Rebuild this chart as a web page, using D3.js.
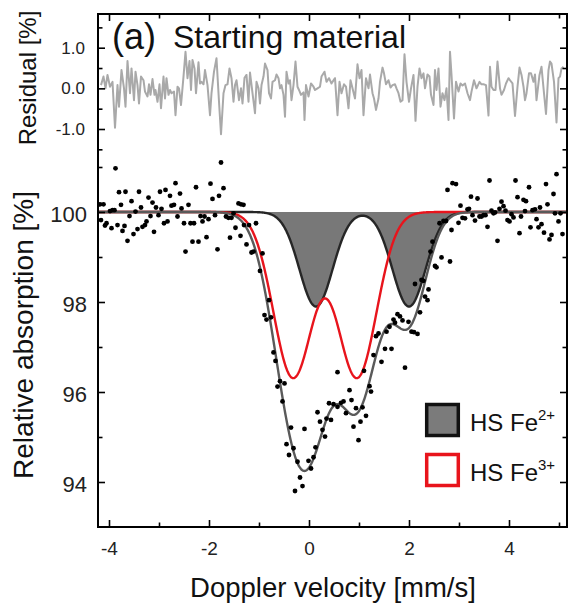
<!DOCTYPE html>
<html>
<head>
<meta charset="utf-8">
<script src="https://cdn.jsdelivr.net/npm/d3@7"></script>
<style>
  body { margin: 0; background: #fff; }
  svg { display: block; font-family: "Liberation Sans", Arial, Helvetica, sans-serif; }
</style>
</head>
<body>
<svg id="chart" width="571" height="604"></svg>
<script>
// Measured transmission spectrum: [Doppler velocity (mm/s), relative absorption (%)]
const spectrum = [
  [-4.18,100.17],[-4.16,99.82],[-4.11,100.17],[-4.08,99.70],[-4.05,99.75],[-3.98,100.02],[-3.95,99.64],
  [-3.93,100.04],[-3.89,100.04],[-3.87,100.97],[-3.83,99.71],[-3.80,100.44],[-3.76,100.16],[-3.73,99.58],
  [-3.69,99.69],[-3.67,100.45],[-3.63,99.36],[-3.59,99.91],[-3.55,100.24],[-3.51,99.51],[-3.47,100.01],
  [-3.43,99.62],[-3.40,100.45],[-3.36,100.10],[-3.33,99.67],[-3.28,99.71],[-3.25,99.79],[-3.21,100.32],
  [-3.17,99.91],[-3.13,100.21],[-3.10,99.56],[-3.06,100.10],[-3.01,99.93],[-2.98,100.45],[-2.95,100.07],
  [-2.90,99.75],[-2.87,100.49],[-2.83,99.79],[-2.78,100.36],[-2.75,100.14],[-2.70,100.16],[-2.67,100.64],
  [-2.63,99.90],[-2.58,100.41],[-2.55,100.08],[-2.50,99.75],[-2.47,99.12],[-2.41,100.16],[-2.37,99.75],
  [-2.33,99.34],[-2.30,99.75],[-2.26,100.55],[-2.21,99.34],[-2.17,99.91],[-2.13,99.79],[-2.09,99.90],
  [-2.05,99.44],[-2.01,99.84],[-1.97,100.63],[-1.93,100.29],[-1.88,99.93],[-1.83,99.17],[-1.80,100.36],
  [-1.76,101.10],[-1.71,100.53],[-1.66,99.90],[-1.61,99.87],[-1.58,99.43],[-1.55,99.87],[-1.51,99.97],
  [-1.47,99.65],[-1.41,100.19],[-1.37,99.47],[-1.36,100.17],[-1.31,100.16],[-1.30,99.71],[-1.25,99.28],
  [-1.20,99.71],[-1.15,99.10],[-1.11,99.12],[-1.06,99.75],[-0.98,98.69],[-0.93,99.08],[-0.89,97.71],
  [-0.85,97.61],[-0.80,98.04],[-0.76,97.66],[-0.71,96.88],[-0.67,96.69],[-0.63,96.12],[-0.58,96.24],
  [-0.53,95.79],[-0.49,96.19],[-0.45,94.84],[-0.40,94.60],[-0.36,95.21],[-0.31,94.75],[-0.28,93.80],
  [-0.23,94.45],[-0.18,94.10],[-0.13,93.91],[-0.09,95.18],[-0.01,94.47],[0.04,94.30],[0.09,94.55],
  [0.13,94.77],[0.17,95.55],[0.22,95.34],[0.27,95.16],[0.32,95.01],[0.35,95.41],[0.40,95.75],
  [0.44,95.38],[0.49,95.73],[0.57,95.67],[0.57,96.44],[0.64,95.76],[0.69,95.79],[0.74,95.53],
  [0.81,96.04],[0.85,95.82],[0.89,95.23],[0.94,95.64],[0.99,94.93],[1.03,95.34],[1.07,95.66],
  [1.10,96.47],[1.14,95.47],[1.21,96.13],[1.24,96.01],[1.29,96.82],[1.34,97.24],[1.39,97.30],
  [1.45,96.67],[1.52,96.96],[1.55,97.34],[1.61,97.45],[1.65,96.96],[1.69,97.61],[1.72,97.54],
  [1.77,97.73],[1.82,97.68],[1.87,97.59],[1.92,96.54],[1.99,97.56],[2.05,97.34],[2.10,97.33],
  [2.12,98.40],[2.17,97.29],[2.22,97.77],[2.25,98.49],[2.29,98.47],[2.32,98.12],[2.37,98.04],
  [2.39,98.28],[2.43,99.12],[2.47,99.34],[2.52,98.80],[2.55,98.77],[2.61,99.75],[2.65,98.99],
  [2.69,99.80],[2.74,99.80],[2.77,100.49],[2.82,98.90],[2.85,99.60],[2.87,100.64],[2.94,100.62],
  [2.99,99.76],[3.03,100.14],[3.07,99.87],[3.12,99.86],[3.17,100.06],[3.20,100.07],[3.24,100.34],
  [3.27,99.93],[3.32,99.81],[3.37,100.30],[3.41,99.90],[3.45,99.90],[3.49,99.93],[3.53,99.93],
  [3.57,99.67],[3.61,100.70],[3.65,100.03],[3.69,99.97],[3.72,99.99],[3.77,99.36],[3.81,100.07],
  [3.85,100.23],[3.89,100.13],[3.93,100.03],[3.97,99.82],[4.01,99.79],[4.05,99.95],[4.09,99.88],
  [4.13,100.70],[4.17,100.33],[4.21,99.53],[4.24,99.90],[4.29,100.27],[4.32,100.02],[4.34,100.24],
  [4.40,100.55],[4.43,99.66],[4.47,100.04],[4.52,100.06],[4.55,99.84],[4.59,99.66],[4.62,100.10],
  [4.65,99.73],[4.70,99.54],[4.74,100.62],[4.77,100.17],[4.81,99.39],[4.85,99.49],[4.89,100.40],
  [4.92,99.97],[4.95,100.84],[4.99,99.79],[5.03,99.97],[5.07,99.51]
];

// Fit residual: [Doppler velocity (mm/s), residual (%)]
const residual = [
  [-4.16,0.08],[-4.11,0.29],[-4.07,0.00],[-4.03,0.33],[-3.98,0.04],[-3.93,0.16],[-3.88,-0.97],[-3.83,0.08],
  [-3.80,-0.45],[-3.75,0.45],[-3.70,0.00],[-3.67,-0.45],[-3.63,0.67],[-3.58,-0.12],[-3.55,0.49],[-3.50,-0.29],
  [-3.47,0.41],[-3.43,0.08],[-3.40,-0.37],[-3.36,0.29],[-3.31,0.20],[-3.28,-0.08],[-3.23,-0.20],[-3.20,0.10],
  [-3.17,-0.16],[-3.13,0.23],[-3.09,-0.16],[-3.07,-0.04],[-3.03,-0.33],[-2.99,0.10],[-2.96,-0.49],[-2.91,0.29],
  [-2.88,-0.25],[-2.85,0.25],[-2.81,-0.16],[-2.78,-0.04],[-2.75,-0.12],[-2.70,-0.08],[-2.67,-0.66],[-2.63,0.04],
  [-2.60,0.00],[-2.56,-0.41],[-2.51,0.29],[-2.47,0.90],[-2.43,0.25],[-2.39,0.67],[-2.36,-0.04],[-2.33,0.70],
  [-2.29,0.49],[-2.26,-0.12],[-2.21,0.64],[-2.18,0.12],[-2.15,0.16],[-2.11,0.10],[-2.08,0.45],[-2.03,0.08],
  [-1.98,-0.66],[-1.95,-0.12],[-1.90,0.41],[-1.85,0.74],[-1.80,-0.33],[-1.76,-1.13],[-1.71,-0.12],[-1.67,0.08],
  [-1.63,0.10],[-1.59,0.49],[-1.55,0.25],[-1.51,-0.33],[-1.48,0.08],[-1.45,0.20],[-1.40,-0.29],[-1.36,0.00],
  [-1.33,-0.37],[-1.29,0.26],[-1.25,0.33],[-1.21,-0.33],[-1.18,0.39],[-1.13,-0.12],[-1.08,-0.61],[-1.05,0.16],
  [-1.01,0.00],[-0.98,-0.37],[-0.95,0.08],[-0.91,0.29],[-0.88,0.61],[-0.83,0.45],[-0.80,-0.12],[-0.76,-0.25],
  [-0.73,0.16],[-0.68,0.20],[-0.65,0.34],[-0.61,0.25],[-0.58,0.00],[-0.55,0.08],[-0.51,-0.16],[-0.48,-0.70],
  [-0.45,0.41],[-0.41,0.12],[-0.38,0.20],[-0.35,-0.29],[-0.31,0.08],[-0.27,0.66],[-0.23,0.04],[-0.20,-0.04],
  [-0.16,-0.16],[-0.11,-0.10],[-0.09,-0.78],[-0.06,0.08],[-0.01,-0.20],[0.04,0.12],[0.09,0.04],[0.12,-0.04],
  [0.17,0.00],[0.22,0.04],[0.25,0.29],[0.31,0.41],[0.35,0.16],[0.40,0.25],[0.45,0.12],[0.47,0.16],
  [0.52,0.25],[0.57,-0.66],[0.61,0.16],[0.65,-0.12],[0.70,0.10],[0.74,0.04],[0.79,-0.49],[0.83,0.20],
  [0.87,0.00],[0.92,-0.25],[0.97,0.59],[1.01,0.25],[1.05,0.45],[1.09,-0.66],[1.14,0.25],[1.19,0.00],
  [1.22,0.34],[1.27,-0.12],[1.30,-0.25],[1.34,-0.53],[1.39,-0.25],[1.42,0.16],[1.47,0.51],[1.50,0.37],
  [1.54,0.10],[1.59,0.20],[1.63,0.02],[1.67,0.08],[1.72,0.10],[1.75,0.00],[1.79,-0.12],[1.83,-0.33],
  [1.87,-0.29],[1.91,0.84],[1.95,0.16],[2.00,-0.33],[2.04,0.00],[2.09,0.33],[2.13,-0.80],[2.17,0.04],
  [2.21,0.49],[2.25,0.25],[2.29,0.37],[2.32,0.00],[2.37,0.34],[2.41,0.29],[2.44,-0.16],[2.49,-0.41],
  [2.52,0.45],[2.55,-0.04],[2.59,0.49],[2.63,-0.45],[2.67,-0.12],[2.71,-0.29],[2.75,0.00],[2.79,-0.78],
  [2.82,0.90],[2.85,0.33],[2.90,-0.74],[2.94,0.16],[2.99,-0.08],[3.03,0.12],[3.07,0.07],[3.12,0.12],
  [3.17,-0.12],[3.22,-0.29],[3.25,-0.08],[3.30,0.20],[3.35,0.00],[3.41,0.16],[3.45,0.10],[3.49,0.10],
  [3.54,0.08],[3.59,-0.67],[3.62,0.53],[3.65,0.04],[3.69,-0.04],[3.73,-0.04],[3.77,0.66],[3.82,0.00],
  [3.85,-0.16],[3.90,-0.04],[3.94,0.12],[3.99,0.25],[4.02,0.20],[4.07,0.12],[4.12,-0.68],[4.17,0.04],
  [4.21,0.51],[4.25,0.33],[4.29,0.04],[4.32,-0.29],[4.35,-0.12],[4.40,0.37],[4.44,0.37],[4.49,0.16],
  [4.52,0.34],[4.55,-0.29],[4.61,0.33],[4.65,0.53],[4.70,-0.12],[4.74,-0.63],[4.79,0.45],[4.82,0.66],
  [4.85,0.61],[4.90,0.16],[4.95,-0.84],[4.99,0.25],[5.02,0.29],[5.05,0.49],[5.09,0.53]
];

// Fitted sites (Gaussian doublets): line positions (mm/s), FWHM (mm/s), line depth (%)
const siteLabels = ["HS Fe", "HS Fe"];
const siteCharges = ["2+", "3+"];
const siteLines = [[0.14, 2.00], [-0.32, 0.96]];
const siteWidths = [0.78, 0.92];
const siteDepths = [2.10, 3.675];
// Fitted total envelope, per site: FWHM (mm/s) and line depth (%)
const envelopeWidths = [0.80, 0.98];
const envelopeDepths = [2.386, 4.286];

const velocityRange = [-4.22, 5.16];
const absorptionRange = [93, 100];
const xMajor = [-4, -2, 0, 2, 4];
const xMinor = [-3, -1, 1, 3, 5];
const yMajor = [94, 96, 98, 100];
const yMinor = [95, 97, 99, 101];
const rMajor = [-1, 0, 1];
const rMinor = [-1.5, -0.5, 0.5, 1.5];

// ---- layout ----
const svg = d3.select("#chart");
const box = { left: 98, right: 567, top: 14, bottom: 527 };
const baselineY = 212;           // 100 % line
const x = d3.scaleLinear().domain(velocityRange).range([box.left, box.right]);
const y = d3.scaleLinear().domain(absorptionRange).range([box.bottom, baselineY]);
const yr = d3.scaleLinear().domain([-1, 1]).range([129, 47.7]);

// doublet profiles
const gauss = (v, c, w) => Math.exp(-4 * Math.LN2 * ((v - c) / w) ** 2);
const doublet = (i, v, widths, depths) => depths[i] * d3.sum(siteLines[i], c => gauss(v, c, widths[i]));
const siteAbs = (i, v) => doublet(i, v, siteWidths, siteDepths);
const envelopeAbs = v => doublet(0, v, envelopeWidths, envelopeDepths) + doublet(1, v, envelopeWidths, envelopeDepths);
const grid = d3.range(velocityRange[0], velocityRange[1] + 1e-9, 0.01);

const plot = svg.append("g");
svg.append("clipPath").attr("id", "plotClip")
  .append("rect").attr("x", box.left).attr("y", box.top)
  .attr("width", box.right - box.left).attr("height", box.bottom - box.top);
plot.attr("clip-path", "url(#plotClip)");

// Fe2+ site: shaded
plot.append("path")
  .attr("d", d3.area().x(v => x(v)).y0(y(100)).y1(v => y(100 - siteAbs(0, v)))(grid))
  .attr("fill", "#787878");
plot.append("path")
  .attr("d", d3.line().x(v => x(v)).y(v => y(100 - siteAbs(0, v)))(grid))
  .attr("fill", "none").attr("stroke", "#262626").attr("stroke-width", 2.4);

// Fe3+ site
plot.append("path")
  .attr("d", d3.line().x(v => x(v)).y(v => y(100 - siteAbs(1, v)))(grid))
  .attr("fill", "none").attr("stroke", "#e8141c").attr("stroke-width", 2.4);

// total envelope
plot.append("path")
  .attr("d", d3.line().x(v => x(v)).y(v => y(100 - envelopeAbs(v)))(grid))
  .attr("fill", "none").attr("stroke", "#5a5a5a").attr("stroke-width", 2.4);

// residual
plot.append("path")
  .attr("d", d3.line().x(d => x(d[0])).y(d => yr(d[1]))(residual))
  .attr("fill", "none").attr("stroke", "#a9a9a9").attr("stroke-width", 2)
  .attr("stroke-linejoin", "round");

// measured points
plot.selectAll("circle.pt").data(spectrum).join("circle")
  .attr("class", "pt")
  .attr("cx", d => x(d[0])).attr("cy", d => y(d[1])).attr("r", 2.4)
  .attr("fill", "#000");

// ---- axes (ticks point inward) ----
function styleAxis(g) {
  g.select(".domain").remove();
  g.selectAll(".tick line").attr("stroke", "#000").attr("stroke-width", 1.6);
  g.selectAll("text").attr("fill", "#222");
}
const majorLen = 7, minorLen = 4.5;

svg.append("g").attr("transform", `translate(0,${box.bottom})`)
  .call(d3.axisBottom(x).tickValues(xMajor).tickSize(-majorLen).tickPadding(15).tickFormat(d => String(d)))
  .call(styleAxis)
  .call(g => g.selectAll("text").attr("font-size", 19).attr("font-family", null));
svg.append("g").attr("transform", `translate(0,${box.bottom})`)
  .call(d3.axisBottom(x).tickValues(xMinor).tickSize(-minorLen).tickFormat(""))
  .call(styleAxis);
svg.append("g").attr("transform", `translate(0,${box.top})`)
  .call(d3.axisTop(x).tickValues(xMajor).tickSize(-majorLen).tickFormat(""))
  .call(styleAxis);
svg.append("g").attr("transform", `translate(0,${box.top})`)
  .call(d3.axisTop(x).tickValues(xMinor).tickSize(-minorLen).tickFormat(""))
  .call(styleAxis);

// absorption axis
svg.append("g").attr("transform", `translate(${box.left},0)`)
  .call(d3.axisLeft(y).tickValues(yMajor).tickSize(-majorLen).tickPadding(11).tickFormat(d => String(d)))
  .call(styleAxis)
  .call(g => g.selectAll("text").attr("font-size", 22).attr("font-family", null).attr("dy", "0.45em"));
svg.append("g").attr("transform", `translate(${box.left},0)`)
  .call(d3.axisLeft(y).tickValues(yMinor).tickSize(-minorLen).tickFormat(""))
  .call(styleAxis);
svg.append("g").attr("transform", `translate(${box.right},0)`)
  .call(d3.axisRight(y).tickValues(yMajor).tickSize(-majorLen).tickFormat(""))
  .call(styleAxis);
svg.append("g").attr("transform", `translate(${box.right},0)`)
  .call(d3.axisRight(y).tickValues(yMinor).tickSize(-minorLen).tickFormat(""))
  .call(styleAxis);

// residual axis
svg.append("g").attr("transform", `translate(${box.left},0)`)
  .call(d3.axisLeft(yr).tickValues(rMajor).tickSize(-majorLen).tickPadding(13).tickFormat(d => d.toFixed(1)))
  .call(styleAxis)
  .call(g => g.selectAll("text").attr("font-size", 17).attr("font-family", null));
svg.append("g").attr("transform", `translate(${box.left},0)`)
  .call(d3.axisLeft(yr).tickValues(rMinor).tickSize(-minorLen).tickFormat(""))
  .call(styleAxis);
svg.append("g").attr("transform", `translate(${box.right},0)`)
  .call(d3.axisRight(yr).tickValues(rMajor).tickSize(-majorLen).tickFormat(""))
  .call(styleAxis);
svg.append("g").attr("transform", `translate(${box.right},0)`)
  .call(d3.axisRight(yr).tickValues(rMinor).tickSize(-minorLen).tickFormat(""))
  .call(styleAxis);

// frame
svg.append("rect")
  .attr("x", box.left).attr("y", box.top)
  .attr("width", box.right - box.left).attr("height", box.bottom - box.top)
  .attr("fill", "none").attr("stroke", "#000").attr("stroke-width", 2);

// ---- titles ----
svg.append("text").attr("x", 112).attr("y", 49).attr("font-size", 36).attr("fill", "#111").text("(a)");
svg.append("text").attr("x", 173).attr("y", 48).attr("font-size", 32).attr("fill", "#111").text("Starting material");

svg.append("text")
  .attr("x", 333).attr("y", 597).attr("text-anchor", "middle")
  .attr("font-size", 27.5).attr("fill", "#111").text("Doppler velocity [mm/s]");
svg.append("text")
  .attr("transform", "translate(33,335) rotate(-90)").attr("text-anchor", "middle")
  .attr("font-size", 28).attr("fill", "#111").text("Relative absorption [%]");
svg.append("text")
  .attr("transform", "translate(36,78) rotate(-90)").attr("text-anchor", "middle")
  .attr("font-size", 24).attr("fill", "#111").text("Residual [%]");

// ---- legend ----
const legend = svg.append("g");
const legendStyles = [
  { fill: "#7b7b7b", stroke: "#111" },
  { fill: "#fff", stroke: "#e8141c" }
];
siteLabels.forEach((label, i) => {
  const top = 404.5 + i * 50;
  legend.append("rect")
    .attr("x", 426.7).attr("y", top).attr("width", 31.6).attr("height", 31)
    .attr("fill", legendStyles[i].fill).attr("stroke", legendStyles[i].stroke).attr("stroke-width", 3.5);
  const t = legend.append("text").attr("x", 470).attr("y", top + 26).attr("font-size", 24).attr("fill", "#111");
  t.append("tspan").text(label);
  t.append("tspan").attr("dy", -11).attr("font-size", 15).text(siteCharges[i]);
});
</script>
</body>
</html>
